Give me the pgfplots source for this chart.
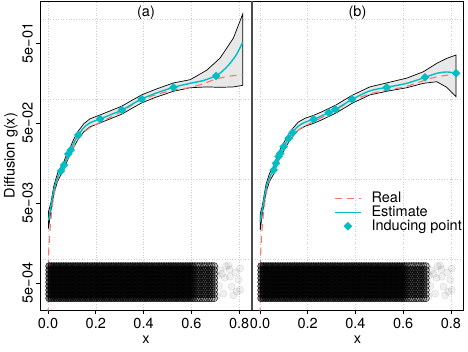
\documentclass[border=0pt]{standalone}
\usepackage{fontspec}
\setmainfont{TeX Gyre Heros}
\usepackage{pgfplots}
\usepackage{pgfplotstable}
\pgfplotsset{compat=1.18}
\definecolor{realred}{RGB}{248,118,109}
\definecolor{estcyan}{RGB}{0,191,196}
\definecolor{gridgray}{RGB}{205,205,205}
\definecolor{bandgray}{RGB}{232,232,232}
\newcommand\fs{\fontsize{14.5}{17}\selectfont}

% x positions of the observations (rug near 5e-04); d = density group
\pgfplotstableread{
x d
0.005 1
0.015 1
0.025 1
0.035 1
0.045 1
0.055 1
0.065 1
0.075 1
0.085 1
0.095 1
0.105 1
0.115 1
0.125 1
0.135 1
0.145 1
0.155 1
0.165 1
0.175 1
0.185 1
0.195 1
0.205 1
0.215 1
0.225 1
0.235 1
0.245 1
0.255 1
0.265 1
0.275 1
0.285 1
0.295 1
0.305 1
0.315 1
0.325 1
0.335 1
0.345 1
0.355 1
0.365 1
0.375 1
0.385 1
0.395 1
0.405 1
0.415 1
0.425 1
0.435 1
0.445 1
0.455 1
0.465 1
0.475 1
0.485 1
0.495 1
0.505 1
0.515 1
0.525 1
0.535 1
0.545 1
0.555 1
0.565 1
0.575 1
0.585 1
0.595 1
0.605 1
}\rugdense
\pgfplotstableread{
x d
0.615 2
0.625 2
0.635 2
0.645 2
0.655 2
0.665 2
0.675 2
0.685 2
0.695 2
}\rugmid
\pgfplotstableread{
x y
0.755 8.3e-4
0.804 7.6e-4
0.762 6.0e-4
0.797 5.5e-4
0.769 4.5e-4
0.804 4.1e-4
0.720 7.2e-4
0.734 3.7e-4
0.692 5.2e-4
0.706 3.4e-4
0.776 3.5e-4
0.740 5.8e-4
0.715 4.6e-4
0.785 6.8e-4
0.700 8.0e-4
0.745 8.1e-4
0.728 6.5e-4
0.790 3.9e-4
0.760 7.4e-4
0.708 6.2e-4
}\rugsparse

% panel (a)
\pgfplotstableread{
x y
0.002 3.020e-3
0.012 4.467e-3
0.025 7.413e-3
0.040 1.047e-2
0.054 1.259e-2
0.067 1.479e-2
0.085 2.042e-2
0.095 2.291e-2
0.110 2.884e-2
0.127 3.548e-2
0.150 4.365e-2
0.175 5.012e-2
0.218 5.623e-2
0.260 6.310e-2
0.309 7.244e-2
0.350 8.511e-2
0.392 0.1000
0.450 0.1175
0.525 0.1396
0.595 0.1567
0.650 0.1698
0.704 0.1950
0.735 0.2291
0.762 0.2786
0.790 0.3631
0.815 0.5129
}\estA
\pgfplotstableread{
x y
0.002 3.890e-3
0.012 5.012e-3
0.025 8.318e-3
0.040 1.175e-2
0.054 1.413e-2
0.067 1.660e-2
0.085 2.291e-2
0.095 2.570e-2
0.110 3.236e-2
0.127 3.981e-2
0.150 4.898e-2
0.175 5.623e-2
0.218 6.310e-2
0.260 7.079e-2
0.309 8.128e-2
0.350 9.550e-2
0.392 0.1122
0.450 0.1318
0.525 0.1585
0.595 0.1738
0.665 0.2291
0.720 0.3236
0.776 0.5754
0.815 1.148
0.815 0.1479
0.776 0.1413
0.720 0.1396
0.665 0.1413
0.595 0.1380
0.525 0.1245
0.450 0.1047
0.392 8.913e-2
0.350 7.586e-2
0.309 6.457e-2
0.260 5.623e-2
0.218 5.012e-2
0.175 4.467e-2
0.150 3.890e-2
0.127 3.162e-2
0.110 2.570e-2
0.095 2.042e-2
0.085 1.820e-2
0.067 1.318e-2
0.054 1.122e-2
0.040 9.333e-3
0.025 6.607e-3
0.012 3.981e-3
0.002 2.399e-3
0.002 3.890e-3
}\bandA
\pgfplotstableread{
x y
0.054 1.259e-2
0.067 1.493e-2
0.085 2.051e-2
0.095 2.296e-2
0.127 3.540e-2
0.218 5.610e-2
0.309 7.261e-2
0.392 9.977e-2
0.525 0.1396
0.704 0.1932
}\indA
\pgfplotstableread{
x y
0.0002 1.0e-4
0.001 5.012e-4
0.002 1.000e-3
0.004 1.413e-3
0.008 2.239e-3
0.015 3.802e-3
0.025 6.310e-3
0.040 9.772e-3
0.060 1.318e-2
0.090 1.995e-2
0.130 3.236e-2
0.170 4.266e-2
0.220 5.129e-2
0.300 6.761e-2
0.385 9.550e-2
0.460 0.1148
0.525 0.1288
0.590 0.1380
0.650 0.1549
0.700 0.1758
0.760 0.1928
0.815 0.2000
}\realA

% panel (b)
\pgfplotstableread{
x y
0.001 2.884e-3
0.010 4.169e-3
0.025 7.586e-3
0.040 1.047e-2
0.057 1.288e-2
0.067 1.567e-2
0.078 1.905e-2
0.085 2.089e-2
0.099 2.512e-2
0.120 3.236e-2
0.137 3.802e-2
0.160 4.571e-2
0.190 5.129e-2
0.225 5.559e-2
0.260 6.166e-2
0.288 6.761e-2
0.316 7.413e-2
0.350 8.511e-2
0.386 9.886e-2
0.460 0.1259
0.531 0.1396
0.615 0.1567
0.692 0.1862
0.741 0.2089
0.783 0.2173
0.822 0.2089
}\estB
\pgfplotstableread{
x y
0.001 3.631e-3
0.010 4.677e-3
0.025 8.511e-3
0.040 1.175e-2
0.057 1.445e-2
0.067 1.758e-2
0.078 2.138e-2
0.085 2.344e-2
0.099 2.818e-2
0.120 3.631e-2
0.137 4.266e-2
0.160 5.129e-2
0.190 5.754e-2
0.225 6.237e-2
0.260 6.918e-2
0.288 7.586e-2
0.316 8.318e-2
0.350 9.550e-2
0.386 0.1109
0.460 0.1413
0.531 0.1585
0.615 0.1820
0.685 0.2188
0.741 0.2786
0.783 0.3214
0.822 0.3540
0.822 0.1067
0.783 0.1396
0.741 0.1641
0.685 0.1567
0.615 0.1380
0.531 0.1245
0.460 0.1122
0.386 8.810e-2
0.350 7.586e-2
0.316 6.607e-2
0.288 6.026e-2
0.260 5.495e-2
0.225 4.955e-2
0.190 4.571e-2
0.160 4.074e-2
0.137 3.388e-2
0.120 2.884e-2
0.099 2.239e-2
0.085 1.862e-2
0.078 1.698e-2
0.067 1.396e-2
0.057 1.148e-2
0.040 9.333e-3
0.025 6.761e-3
0.010 3.715e-3
0.001 2.291e-3
0.001 3.631e-3
}\bandB
\pgfplotstableread{
x y
0.057 1.294e-2
0.067 1.567e-2
0.078 1.905e-2
0.085 2.089e-2
0.099 2.529e-2
0.120 3.221e-2
0.137 3.784e-2
0.225 5.559e-2
0.288 6.730e-2
0.316 7.413e-2
0.386 9.886e-2
0.531 0.1396
0.692 0.1862
0.822 0.2089
}\indB
\pgfplotstableread{
x y
0.0002 1.0e-4
0.001 5.012e-4
0.002 1.000e-3
0.004 1.413e-3
0.008 2.239e-3
0.015 3.802e-3
0.025 6.310e-3
0.040 9.772e-3
0.060 1.318e-2
0.090 1.995e-2
0.130 3.236e-2
0.170 4.266e-2
0.220 5.129e-2
0.300 6.761e-2
0.385 9.550e-2
0.460 0.1148
0.525 0.1288
0.590 0.1380
0.650 0.1549
0.700 0.1758
0.760 0.1928
0.822 0.2042
}\realB

\newcommand\drawrug{%
  \pgfplotsinvokeforeach{8.128e-4,7.244e-4,6.457e-4,5.754e-4,5.129e-4,4.571e-4,4.074e-4,3.631e-4,3.236e-4}{%
    \addplot[forget plot, only marks, mark=*, mark size=3.6pt,
      mark options={draw=none, fill=black, fill opacity=0.5}] table[x=x, y expr=##1] {\rugdense};
    \addplot[forget plot, only marks, mark=*, mark size=3.6pt,
      mark options={draw=none, fill=black, fill opacity=0.16}] table[x=x, y expr=##1] {\rugmid};
  }
  \addplot[forget plot, only marks, mark=*, mark size=3.6pt,
    mark options={draw=black, line width=0.4pt, draw opacity=0.12, fill=black, fill opacity=0.06}] table {\rugsparse};
}

\begin{document}
\begin{tikzpicture}[font=\fs]
\useasboundingbox (0,0) rectangle (468pt,351pt);
\begin{axis}[scale only axis, height=309pt, width=212pt,
  anchor=south west, at={(40pt,41pt)},
  xmin=-0.0335, xmax=0.854,
  ymode=log, ymin=2.3e-4, ymax=1.675,
  ytick={5e-4,5e-3,5e-2,5e-1},
  yticklabels={5e−04,5e−03,5e−02,5e−01},
  minor ytick={1e-3,1e-2,1e-1,1},
  yminorgrids=true, xmajorgrids=true,
  minor tick length=0pt,
  grid style={gridgray, dash pattern=on 0.8pt off 1.8pt, line width=0.5pt},
  xtick={0,0.2,0.4,0.6,0.8},
  xtick pos=bottom, ytick pos=left, tick align=outside,
  major tick length=4.5pt,
  tick style={black, line width=0.6pt},
  xticklabel style={/pgf/number format/fixed, /pgf/number format/fixed zerofill,
    /pgf/number format/precision=1, /pgf/number format/assume math mode=true},
  yticklabel style={xshift=-1.5pt, rotate=90, anchor=south, inner sep=1pt},
  tick label style={font=\fs},
  label style={font=\fs},
  xlabel={x},
  ylabel={Diffusion g(x)},
  axis line style={black, line width=0.7pt},
  title={(a)},
  title style={font=\fs, at={(0.5,1)}, anchor=north, yshift=-7pt},
]
  \drawrug
  \addplot[forget plot, fill=bandgray, draw=black, line width=0.7pt] table {\bandA};
  \addplot[forget plot, realred, line width=1.1pt, dash pattern=on 7pt off 5pt, smooth] table {\realA};
  \addplot[forget plot, estcyan, line width=1.4pt, smooth] table {\estA};
  \addplot[forget plot, only marks, mark=square*, mark size=2.8pt, mark options={rotate=45, fill=estcyan, draw=estcyan}] table {\indA};
\end{axis}
\begin{axis}[scale only axis, height=309pt, width=211pt,
  anchor=south west, at={(252pt,41pt)},
  xmin=-0.0336, xmax=0.851,
  ymode=log, ymin=2.3e-4, ymax=1.675,
  ytick={5e-4,5e-3,5e-2,5e-1},
  yticklabels={}, ytick style={draw=none},
  minor ytick={1e-3,1e-2,1e-1,1},
  yminorgrids=true, xmajorgrids=true,
  minor tick length=0pt,
  grid style={gridgray, dash pattern=on 0.8pt off 1.8pt, line width=0.5pt},
  xtick={0,0.2,0.4,0.6,0.8},
  xtick pos=bottom, ytick pos=left, tick align=outside,
  major tick length=4.5pt,
  tick style={black, line width=0.6pt},
  xticklabel style={/pgf/number format/fixed, /pgf/number format/fixed zerofill,
    /pgf/number format/precision=1, /pgf/number format/assume math mode=true},
  tick label style={font=\fs},
  label style={font=\fs},
  xlabel={x},
  axis line style={black, line width=0.7pt},
  title={(b)},
  title style={font=\fs, at={(0.5,1)}, anchor=north, yshift=-7pt},
  legend style={at={(0.379,0.395)}, anchor=north west, draw=none, fill=none,
    font=\fs, row sep=-2pt, inner sep=2pt},
  legend cell align=left,
  legend image code/.code={\draw[mark repeat=2,mark phase=2,#1] plot coordinates {(0pt,0pt)(13pt,0pt)(26pt,0pt)}; \path (34pt,0pt);},
]
  \drawrug
  \addplot[forget plot, fill=bandgray, draw=black, line width=0.7pt] table {\bandB};
  \addplot[realred, line width=1.1pt, dash pattern=on 7pt off 5pt, smooth] table {\realB};
  \addlegendentry{Real}
  \addplot[estcyan, line width=1.4pt, smooth] table {\estB};
  \addlegendentry{Estimate}
  \addplot[only marks, mark=square*, mark size=2.8pt, mark options={rotate=45, fill=estcyan, draw=estcyan}] table {\indB};
  \addlegendentry{Inducing point}
\end{axis}
\draw[black!70, line width=2.2pt] (252pt,41pt) -- (252pt,350pt);
\end{tikzpicture}
\end{document}
